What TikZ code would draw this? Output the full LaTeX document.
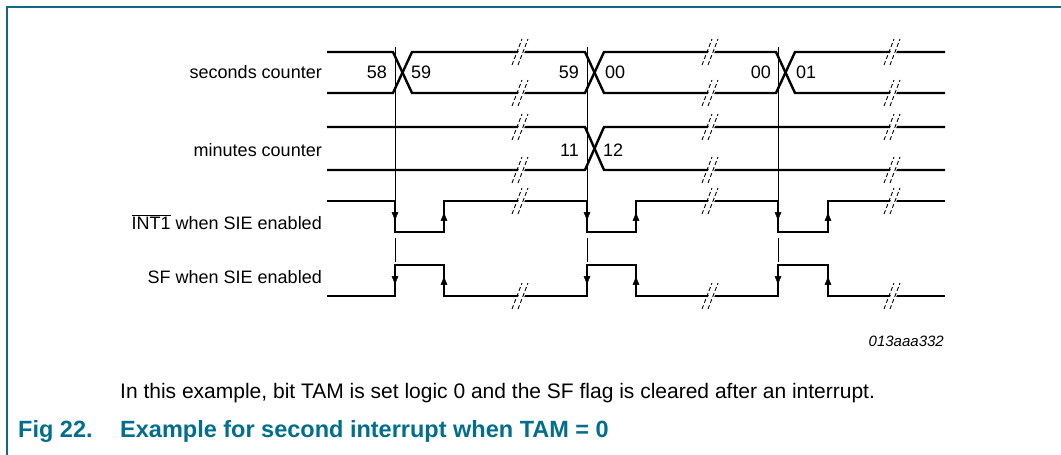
\documentclass[tikz,border=0pt]{standalone}
\usepackage{fontspec}
\setmainfont{Liberation Sans}
\usetikzlibrary{decorations.markings, arrows.meta}
\definecolor{framecol}{RGB}{20,105,130}
\definecolor{capcol}{RGB}{0,110,140}
\begin{document}
\begin{tikzpicture}[x=1pt,y=-1pt,
  sig/.style={line width=2.4pt, line join=miter},
  thinln/.style={line width=0.9pt},
  lbl/.style={font=\fontsize{18}{20}\selectfont, inner sep=0pt},
  midarr/.style={postaction={decorate}, decoration={markings,
     mark=at position 0.62 with {\arrow{Triangle[length=8pt,width=6.5pt]}}}},
  brk/.pic={
     \fill[white] (-6,11) -- (3,-11) -- (9,-11) -- (0,11) -- cycle;
     \draw[thinln, dash pattern=on 4pt off 2.5pt] (-8,13) -- (2,-13);
     \draw[thinln, dash pattern=on 4pt off 2.5pt] (-2,13) -- (8,-13);
  }]
\useasboundingbox (0,0) rectangle (1061,455);
% frame
\draw[framecol, line width=1.5pt] (7,455) -- (7,7) -- (1061,7);

% thin timing markers
\foreach \e in {395,587,778}{
  \draw[thinln] (\e,47) -- (\e,230);
  \draw[thinln] (\e,238) -- (\e,262);
}

% seconds counter bus
\draw[sig] (327,52) -- (393,52) -- (412,93) -- (585,93) -- (604,52) -- (776,52) -- (795,93) -- (945,93);
\draw[sig] (327,93) -- (393,93) -- (412,52) -- (585,52) -- (604,93) -- (776,93) -- (795,52) -- (945,52);
% minutes counter bus
\draw[sig] (327,127) -- (585,127) -- (604,170) -- (945,170);
\draw[sig] (327,170) -- (585,170) -- (604,127) -- (945,127);
% INT1
\draw[sig] (327,201) -- (395,201) -- (395,232) -- (444,232) -- (444,201) -- (587,201) -- (587,232) -- (636,232) -- (636,201) -- (778,201) -- (778,232) -- (828,232) -- (828,201) -- (945,201);
% SF
\draw[sig] (327,296) -- (395,296) -- (395,265) -- (444,265) -- (444,296) -- (587,296) -- (587,265) -- (636,265) -- (636,296) -- (778,296) -- (778,265) -- (828,265) -- (828,296) -- (945,296);

% edge arrows
\foreach \e in {395,587,778}{
  \path[midarr] (\e,201) -- (\e,232);
  \path[midarr] (\e,265) -- (\e,296);
}
\foreach \e in {444,636,828}{
  \path[midarr] (\e,232) -- (\e,201);
  \path[midarr] (\e,296) -- (\e,265);
}

% break marks
\foreach \x in {520,710,892}{
  \pic at (\x,52) {brk};
  \pic at (\x,93) {brk};
  \pic at (\x,127) {brk};
  \pic at (\x,170) {brk};
  \pic at (\x,201) {brk};
  \pic at (\x,296) {brk};
}

% bus values
\node[lbl, anchor=east] (s58) at (387,72) {58};
\node[lbl, anchor=west] (s59a) at (411,72) {59};
\node[lbl, anchor=east] (s59b) at (579,72) {59};
\node[lbl, anchor=west] (s00a) at (605,72) {00};
\node[lbl, anchor=east] (s00b) at (771,72) {00};
\node[lbl, anchor=west] (s01) at (796,72) {01};
\node[lbl, anchor=east] (m11) at (579,150) {11};
\node[lbl, anchor=west] (m12) at (603,150) {12};

% signal labels
\node[lbl, anchor=east] (lsec) at (322,72) {seconds counter};
\node[lbl, anchor=east] (lmin) at (322,150) {minutes counter};
\node[lbl, anchor=east] (lint) at (322,222) {$\overline{\mbox{INT1}}$ when SIE enabled};
\node[lbl, anchor=east] (lsf) at (322,277) {SF when SIE enabled};

\node[anchor=east, inner sep=0pt, font=\fontsize{15}{17}\selectfont\itshape] (code) at (944,341) {013aaa332};

\node[anchor=west, inner sep=0pt, font=\fontsize{21}{24}\selectfont] (note) at (120,393)
  {In this example, bit TAM is set logic 0 and the SF flag is cleared after an interrupt.};
\node[anchor=west, inner sep=0pt, font=\fontsize{23.5}{26}\selectfont\bfseries, text=capcol] (fig) at (18,431) {Fig 22.};
\node[anchor=west, inner sep=0pt, font=\fontsize{23.5}{26}\selectfont\bfseries, text=capcol] (title) at (120,431) {Example for second interrupt when TAM = 0};
\end{tikzpicture}
\end{document}
